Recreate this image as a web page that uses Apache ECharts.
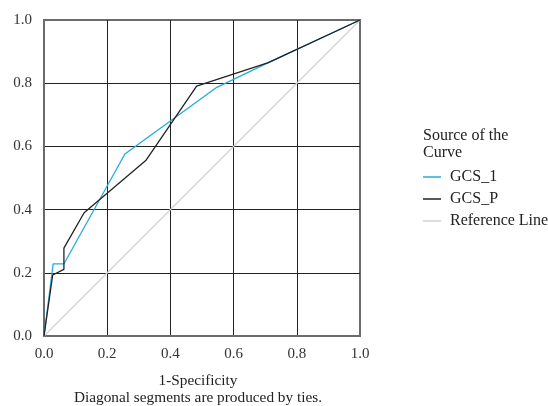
<!DOCTYPE html>
<html>
<head>
<meta charset="utf-8">
<script src="https://cdn.jsdelivr.net/npm/echarts@6/dist/echarts.min.js"></script>
<style>
  html, body { margin: 0; padding: 0; background: #fff; }
  #chart { width: 548px; height: 406px; }
</style>
</head>
<body>
<div id="chart"></div>
<script>
// ROC points: [1-Specificity, Sensitivity]
const gcs1X = [0, 0.029, 0.063, 0.256, 0.547, 0.710, 1]
const gcs1Y = [0, 0.228, 0.228, 0.576, 0.787, 0.865, 1]
const gcsPX = [0, 0.0275, 0.063, 0.063, 0.127, 0.322, 0.483, 0.710, 1]
const gcsPY = [0, 0.193, 0.211, 0.278, 0.390, 0.555, 0.791, 0.865, 1]
const refX = [0, 1]
const refY = [0, 1]
const seriesNames = ['GCS_1', 'GCS_P', 'Reference Line']
const legendTitle = 'Source of the\nCurve'
const xTitle = '1-Specificity\nDiagonal segments are produced by ties.'

const font = '"Liberation Serif", "Times New Roman", serif'
const zip = (xs, ys) => xs.map((x, i) => [x, ys[i]])

const chart = echarts.init(document.getElementById('chart'))

const axisCommon = {
  type: 'value',
  min: 0,
  max: 1,
  interval: 0.2,
  axisLine: { show: true, lineStyle: { color: '#6b6b6b', width: 2 } },
  axisTick: { show: false },
  splitLine: {
    show: true,
    showMinLine: false,
    showMaxLine: false,
    lineStyle: { color: '#222', width: 1 }
  },
  axisLabel: {
    color: '#333',
    fontFamily: font,
    fontSize: 15,
    formatter: v => v.toFixed(1)
  }
}

chart.setOption({
  backgroundColor: '#fff',
  animation: false,
  title: {
    text: legendTitle,
    left: 423,
    top: 127,
    padding: 0,
    textStyle: { fontFamily: font, fontSize: 16, fontWeight: 'normal', color: '#222', lineHeight: 17 }
  },
  legend: {
    orient: 'vertical',
    left: 418,
    top: 164,
    itemGap: 6,
    itemWidth: 18,
    itemHeight: 1.5,
    icon: 'rect',
    data: seriesNames,
    textStyle: { fontFamily: font, fontSize: 16, color: '#222', padding: [0, 0, 0, 4] }
  },
  grid: {
    left: 44,
    top: 20,
    width: 316,
    height: 316,
    outerBoundsMode: 'none',
    containLabel: false,
    show: true,
    borderColor: '#6b6b6b',
    borderWidth: 2,
    backgroundColor: 'transparent'
  },
  xAxis: Object.assign({}, axisCommon, {
    axisLabel: Object.assign({}, axisCommon.axisLabel, { margin: 11 }),
    name: xTitle,
    nameLocation: 'middle',
    nameGap: 36,
    nameTextStyle: { fontFamily: font, fontSize: 15.3, color: '#222', lineHeight: 17, padding: [0, 8, 0, 0] }
  }),
  yAxis: Object.assign({}, axisCommon, {
    axisLabel: Object.assign({}, axisCommon.axisLabel, { margin: 12 })
  }),
  series: [
    {
      name: seriesNames[2],
      type: 'line',
      data: zip(refX, refY),
      showSymbol: false,
      color: '#d2d2d2',
      lineStyle: { color: '#d2d2d2', width: 1.2 },
      z: 1
    },
    {
      name: seriesNames[0],
      type: 'line',
      data: zip(gcs1X, gcs1Y),
      showSymbol: false,
      color: '#25aae1',
      lineStyle: { color: '#25aae1', width: 1.3 },
      z: 2
    },
    {
      name: seriesNames[1],
      type: 'line',
      data: zip(gcsPX, gcsPY),
      showSymbol: false,
      color: '#222',
      lineStyle: { color: '#222', width: 1.3 },
      z: 3
    }
  ]
})
</script>
</body>
</html>
